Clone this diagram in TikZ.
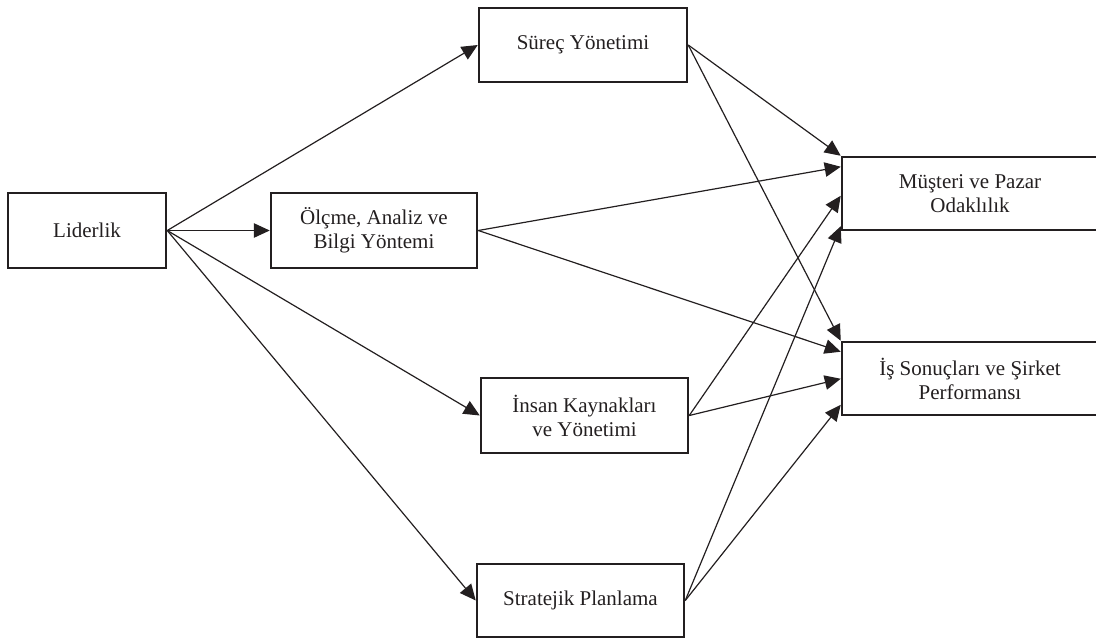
\documentclass[tikz,border=0pt]{standalone}
\usepackage{fontspec}
\setmainfont{Liberation Serif}
\usetikzlibrary{arrows.meta}
\definecolor{mInk}{HTML}{231F20}

\begin{document}
\begin{tikzpicture}[
  x=1pt, y=-1pt,
  every node/.style={font=\fontsize{21}{24}\selectfont, text=mInk},
  box/.style={draw=mInk, line width=2.5pt, minimum height=74pt,
              align=center, inner sep=2pt},
  link/.style={draw=mInk, line width=1.2pt,
               -{Triangle[length=16pt, width=14.5pt]}},
]
  \useasboundingbox (0,0) rectangle (1096,638);
  \clip (0,0) rectangle (1096,638);

  % Left column
  \node[box, minimum width=158pt, minimum height=75pt] (lid) at (87,230.5) {Liderlik};

  % Middle column
  \node[box, minimum width=208pt] (surec) at (583,45) {Süreç Yönetimi};
  \node[box, minimum width=206pt, minimum height=75pt] (olcme) at (374,230.5)
    {Ölçme, Analiz ve\\Bilgi Yöntemi};
  \node[box, minimum width=207pt, minimum height=75pt] (insan) at (584.5,415.5)
    {İnsan Kaynakları\\ve Yönetimi};
  \node[box, minimum width=207pt, minimum height=73pt] (strat) at (580.5,600.5)
    {Stratejik Planlama};

  % Right column (runs past the page edge)
  \node[box, minimum width=256pt, minimum height=73pt] (musteri) at (970,193.5)
    {Müşteri ve Pazar\\Odaklılık};
  \node[box, minimum width=256pt, minimum height=73pt] (sonuc) at (970,378.5)
    {İş Sonuçları ve Şirket\\Performansı};

  % Leadership links
  \draw[link] (lid.east) -- (surec.west);
  \draw[link] (lid.east) -- (olcme.west);
  \draw[link] (lid.east) -- (insan.west);
  \draw[link] (lid.east) -- (strat.west);

  % Links to results
  \draw[link] (surec.east) -- (musteri.north west);
  \draw[link] (surec.east) -- (sonuc.north west);
  \draw[link] (olcme.east) -- ([yshift=-11pt]musteri.north west);
  \draw[link] (olcme.east) -- ([yshift=-11pt]sonuc.north west);
  \draw[link] (insan.east) -- ([yshift=-40pt]musteri.north west);
  \draw[link] (insan.east) -- ([yshift=-38pt]sonuc.north west);
  \draw[link] (strat.east) -- ([yshift=5pt]musteri.south west);
  \draw[link] (strat.east) -- ([yshift=-64pt]sonuc.north west);
\end{tikzpicture}
\end{document}
